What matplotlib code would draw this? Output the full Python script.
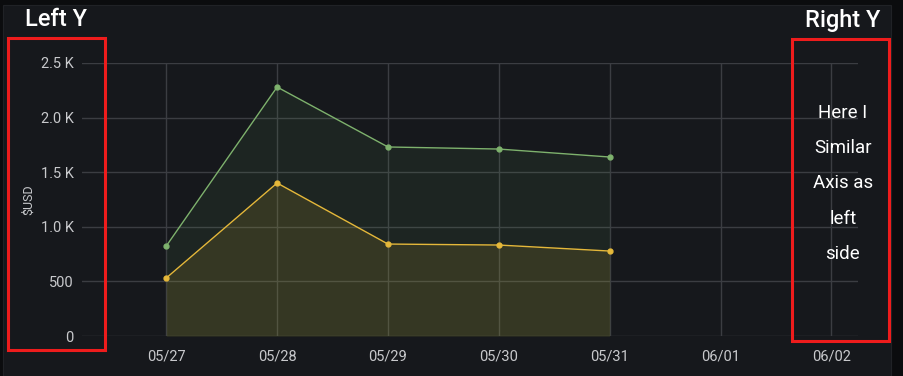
import matplotlib.pyplot as plt
import matplotlib.patches as mpatches
import numpy as np

plt.rcParams['font.family'] = ['Roboto', 'DejaVu Sans']

# ---------------- data ----------------
days = [0, 1, 2, 3, 4]                      # 05/27 .. 05/31
tick_pos = [0, 1, 2, 3, 4, 5, 6]
tick_labels = ['05/27', '05/28', '05/29', '05/30', '05/31', '06/01', '06/02']
green_vals = [824, 2280, 1731, 1712, 1639]
yellow_vals = [531, 1401, 842, 833, 778]
y_ticks = [0, 500, 1000, 1500, 2000, 2500]
y_labels = ['0', '500', '1.0 K', '1.5 K', '2.0 K', '2.5 K']
note_lines = ['Here I', 'Similar', 'Axis as', 'left', 'side']

# ---------------- figure ----------------
W, H = 904, 376
fig = plt.figure(figsize=(W / 100, H / 100), dpi=100)
fig.patch.set_facecolor('#0b0c0e')

# panel background
fig.patches.append(mpatches.Rectangle((3 / W, 0), 888 / W, 1 - 5 / H, transform=fig.transFigure,
                                      facecolor='#16181c', edgecolor='#202226', linewidth=0.8, zorder=-5))

ax = fig.add_axes([82 / W, 1 - 336 / H, (858 - 82) / W, (336 - 63) / H])
ax.set_facecolor('#16181c')
ax.set_zorder(1)

ax.fill_between(days, green_vals, 0, color='#73bf69', alpha=0.08, linewidth=0, zorder=2)
ax.fill_between(days, yellow_vals, 0, color='#c8a92a', alpha=0.14, linewidth=0, zorder=2)
ax.plot(days, green_vals, color='#7eb26d', linewidth=1, marker='o', markersize=3.5, zorder=4)
ax.plot(days, yellow_vals, color='#e5b83a', linewidth=1, marker='o', markersize=3.5, zorder=4)

ax.set_xlim(-0.76, 6.24)
ax.set_ylim(0, 2500)
ax.set_xticks(tick_pos)
ax.set_xticklabels(tick_labels)
ax.set_yticks(y_ticks)
ax.set_yticklabels(y_labels)
ax.grid(True, color='#3b3d42', linewidth=1, zorder=1)
ax.set_axisbelow(True)
for s in ax.spines.values():
    s.set_visible(False)
ax.tick_params(colors='#c8c9cc', labelsize=10.5, length=0, pad=10)
ax.tick_params(axis='y', pad=6)
ax.set_ylabel('$USD', color='#c8c9cc', fontsize=9, labelpad=4)

# titles
fig.text(25 / W, 1 - 20 / H, 'Left Y', color='#ffffff', fontsize=17, fontweight='medium',
         ha='left', va='center')
fig.text(880 / W, 1 - 20 / H, 'Right Y', color='#ffffff', fontsize=17, fontweight='medium',
         ha='right', va='center')

# red boxes
for x0, y0, x1, y1 in [(8, 38, 105, 350), (792, 39, 889, 341)]:
    fig.patches.append(mpatches.Rectangle((x0 / W, 1 - y1 / H), (x1 - x0) / W, (y1 - y0) / H,
                                          transform=fig.transFigure, facecolor='none',
                                          edgecolor='#ee1c1c', linewidth=2.2, zorder=10))

# note text on right
for i, line in enumerate(note_lines):
    fig.text(843 / W, 1 - (113 + i * 35.2) / H, line, color='#ffffff', fontsize=13.5,
             ha='center', va='center', zorder=11)

fig.savefig('out.png', dpi=100, facecolor=fig.get_facecolor())
